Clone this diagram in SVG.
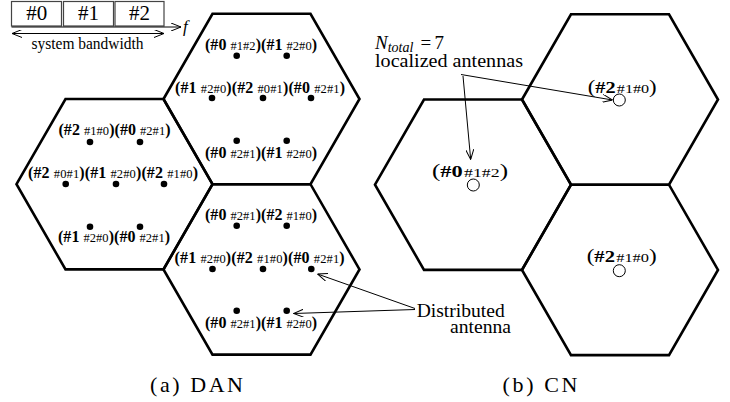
<svg xmlns="http://www.w3.org/2000/svg" width="730" height="402" viewBox="0 0 730 402" font-family="'Liberation Serif', 'Times New Roman', serif">
<style>
text{font-family:'Liberation Serif','Times New Roman',Times,serif;fill:#000}
.hex{fill:none;stroke:#000;stroke-width:2.6;stroke-linejoin:miter}
.b{font-weight:bold;font-size:16px}
.s{font-size:12.5px}
.p{font-size:19px}
.cb{font-weight:bold;font-size:17px}
.cs{font-size:13.5px}
.dot{fill:#000}
.ant{fill:#fff;stroke:#000;stroke-width:1}
.box{fill:#fff;stroke:#444;stroke-width:1.2}
.ln{fill:none;stroke:#000;stroke-width:1}
.big{font-size:19px}
</style>
<defs>
<polygon id="hx" points="-98,0 -49,-85.2 49,-85.2 98,0 49,85.2 -49,85.2"/>
<marker id="ah" viewBox="0 0 10 8" refX="10" refY="4" markerWidth="10" markerHeight="8" markerUnits="userSpaceOnUse" orient="auto-start-reverse"><path d="M0,0 L10,4 L0,8" fill="none" stroke="#000" stroke-width="1"/></marker>
</defs>

<g id="band">
<rect class="box" x="11.5" y="1.5" width="50" height="24.5"/>
<rect class="box" x="63.5" y="1.5" width="50" height="24.5"/>
<rect class="box" x="115" y="1.5" width="49" height="24.5"/>
<text x="36.7" y="20" font-size="21" text-anchor="middle">#0</text>
<text x="88.5" y="20" font-size="21" text-anchor="middle">#1</text>
<text x="139.5" y="20" font-size="21" text-anchor="middle">#2</text>
<line class="ln" x1="11.5" y1="27" x2="181" y2="27" marker-end="url(#ah)"/>
<text x="183" y="32" font-size="17" font-style="italic">f</text>
<line class="ln" x1="12" y1="33.5" x2="164" y2="33.5" marker-start="url(#ah)" marker-end="url(#ah)"/>
<text x="87.5" y="49" font-size="16" text-anchor="middle" textLength="112" lengthAdjust="spacingAndGlyphs">system bandwidth</text>
</g>

<g id="dan-left">
<use href="#hx" class="hex" x="114.5" y="184.2"/>
<text x="114.5" y="134.5" text-anchor="middle" textLength="112" lengthAdjust="spacing"><tspan class="b">(#2 </tspan><tspan class="s">#1#0</tspan><tspan class="b">)(#0 </tspan><tspan class="s">#2#1</tspan><tspan class="b">)</tspan></text>
<text x="113" y="178.3" text-anchor="middle" textLength="170" lengthAdjust="spacing"><tspan class="b">(#2 </tspan><tspan class="s">#0#1</tspan><tspan class="b">)(#1 </tspan><tspan class="s">#2#0</tspan><tspan class="b">)(#2 </tspan><tspan class="s">#1#0</tspan><tspan class="b">)</tspan></text>
<text x="114" y="241.5" text-anchor="middle" textLength="112" lengthAdjust="spacing"><tspan class="b">(#1 </tspan><tspan class="s">#2#0</tspan><tspan class="b">)(#0 </tspan><tspan class="s">#2#1</tspan><tspan class="b">)</tspan></text>
<circle class="dot" cx="90" cy="142" r="3.3"/><circle class="dot" cx="140" cy="142" r="3.3"/>
<circle class="dot" cx="65.7" cy="184" r="3.3"/><circle class="dot" cx="116" cy="184" r="3.3"/><circle class="dot" cx="164" cy="184" r="3.3"/>
<circle class="dot" cx="90" cy="226.7" r="3.3"/><circle class="dot" cx="140" cy="226.7" r="3.3"/>
</g>

<g id="dan-top">
<use href="#hx" class="hex" x="261.5" y="99"/>
<text x="261" y="50" text-anchor="middle" textLength="112" lengthAdjust="spacing"><tspan class="b">(#0 </tspan><tspan class="s">#1#2</tspan><tspan class="b">)(#1 </tspan><tspan class="s">#2#0</tspan><tspan class="b">)</tspan></text>
<text x="260" y="93" text-anchor="middle" textLength="170" lengthAdjust="spacing"><tspan class="b">(#1 </tspan><tspan class="s">#2#0</tspan><tspan class="b">)(#2 </tspan><tspan class="s">#0#1</tspan><tspan class="b">)(#0 </tspan><tspan class="s">#2#1</tspan><tspan class="b">)</tspan></text>
<text x="261" y="158.3" text-anchor="middle" textLength="112" lengthAdjust="spacing"><tspan class="b">(#0 </tspan><tspan class="s">#2#1</tspan><tspan class="b">)(#1 </tspan><tspan class="s">#2#0</tspan><tspan class="b">)</tspan></text>
<circle class="dot" cx="236.7" cy="55.7" r="3.3"/><circle class="dot" cx="286.7" cy="55.7" r="3.3"/>
<circle class="dot" cx="212" cy="98" r="3.3"/><circle class="dot" cx="263" cy="98" r="3.3"/><circle class="dot" cx="311" cy="98" r="3.3"/>
<circle class="dot" cx="236.7" cy="140.7" r="3.3"/><circle class="dot" cx="286.7" cy="140.7" r="3.3"/>
</g>

<g id="dan-bottom">
<use href="#hx" class="hex" x="261.5" y="269.4"/>
<text x="261" y="220" text-anchor="middle" textLength="112" lengthAdjust="spacing"><tspan class="b">(#0 </tspan><tspan class="s">#2#1</tspan><tspan class="b">)(#2 </tspan><tspan class="s">#1#0</tspan><tspan class="b">)</tspan></text>
<text x="259.6" y="263.3" text-anchor="middle" textLength="170" lengthAdjust="spacing"><tspan class="b">(#1 </tspan><tspan class="s">#2#0</tspan><tspan class="b">)(#2 </tspan><tspan class="s">#1#0</tspan><tspan class="b">)(#0 </tspan><tspan class="s">#2#1</tspan><tspan class="b">)</tspan></text>
<text x="261" y="328.3" text-anchor="middle" textLength="112" lengthAdjust="spacing"><tspan class="b">(#0 </tspan><tspan class="s">#2#1</tspan><tspan class="b">)(#1 </tspan><tspan class="s">#2#0</tspan><tspan class="b">)</tspan></text>
<circle class="dot" cx="236.7" cy="225.7" r="3.3"/><circle class="dot" cx="286.7" cy="225.7" r="3.3"/>
<circle class="dot" cx="212.5" cy="269" r="3.3"/><circle class="dot" cx="263" cy="269" r="3.3"/><circle class="dot" cx="311.3" cy="269" r="3.3"/>
<circle class="dot" cx="236.7" cy="310.7" r="3.3"/><circle class="dot" cx="286.7" cy="310.7" r="3.3"/>
</g>

<g id="dan-note">
<text class="big" x="416.7" y="316.5" textLength="88" lengthAdjust="spacingAndGlyphs">Distributed</text>
<text class="big" x="450" y="332.5" textLength="61" lengthAdjust="spacingAndGlyphs">antenna</text>
</g>

<g id="cn-left">
<use href="#hx" class="hex" x="473" y="184.7"/>
<text x="470" y="176.7" text-anchor="middle" textLength="76" lengthAdjust="spacingAndGlyphs"><tspan class="p">(</tspan><tspan class="cb">#0</tspan><tspan class="cs" dx="1">#1#2</tspan><tspan class="p">)</tspan></text>
<circle class="ant" cx="473.3" cy="185" r="6"/>
</g>

<g id="cn-top">
<use href="#hx" class="hex" x="620" y="99.5"/>
<text x="622.2" y="93.3" text-anchor="middle" textLength="69" lengthAdjust="spacingAndGlyphs"><tspan class="p">(</tspan><tspan class="cb">#2</tspan><tspan class="cs" dx="1">#1#0</tspan><tspan class="p">)</tspan></text>
<circle class="ant" cx="619.3" cy="100" r="6"/>
</g>

<g id="cn-bottom">
<use href="#hx" class="hex" x="620" y="269.9"/>
<text x="621.7" y="261.7" text-anchor="middle" textLength="70" lengthAdjust="spacingAndGlyphs"><tspan class="p">(</tspan><tspan class="cb">#2</tspan><tspan class="cs" dx="1">#1#0</tspan><tspan class="p">)</tspan></text>
<circle class="ant" cx="619.3" cy="270.7" r="6"/>
</g>

<g id="cn-note">
<text class="big" x="375" y="49"><tspan font-style="italic">N</tspan><tspan font-style="italic" font-size="14" dy="3">total</tspan><tspan x="420.5" dy="-3">=</tspan><tspan x="434.5">7</tspan></text>
<text class="big" x="375" y="66.7" textLength="148" lengthAdjust="spacingAndGlyphs">localized antennas</text>
</g>

<g id="connectors">
<line class="ln" x1="461" y1="74.5" x2="612.5" y2="100" marker-end="url(#ah)"/>
<line class="ln" x1="463" y1="76" x2="470.7" y2="159.5" marker-end="url(#ah)"/>
<line class="ln" x1="415" y1="308.5" x2="317.5" y2="274" marker-end="url(#ah)"/>
<line class="ln" x1="415" y1="309.5" x2="293.5" y2="313.5" marker-end="url(#ah)"/>
</g>

<g id="captions">
<text x="196.5" y="392" font-size="22" text-anchor="middle" textLength="93" lengthAdjust="spacing">(a) DAN</text>
<text x="540" y="392" font-size="22" text-anchor="middle" textLength="75" lengthAdjust="spacing">(b) CN</text>
</g>
</svg>
